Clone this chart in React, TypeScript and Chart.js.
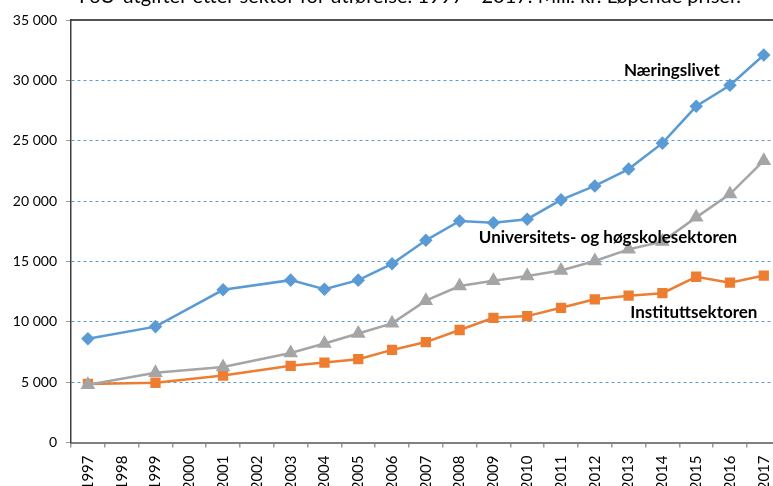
import React, { useEffect, useRef } from "react";
import { Chart, registerables } from "chart.js";

Chart.register(...registerables);

const years = ["1997","1998","1999","2000","2001","2002","2003","2004","2005","2006","2007","2008","2009","2010","2011","2012","2013","2014","2015","2016","2017"];

const naeringslivet = [8600, null, 9600, null, 12650, null, 13450, 12700, 13450, 14800, 16750, 18350, 18200, 18500, 20100, 21250, 22650, 24800, 27850, 29600, 32100];
const universitet = [4780, null, 5770, null, 6250, null, 7420, 8200, 9030, 9870, 11750, 12960, 13400, 13800, 14250, 15040, 16000, 16650, 18650, 20580, 23350];
const institutt = [4850, null, 4950, null, 5550, null, 6350, 6620, 6900, 7670, 8320, 9320, 10330, 10470, 11160, 11860, 12160, 12370, 13730, 13240, 13830];

const seriesNames = ["Næringslivet", "Universitets- og høgskolesektoren", "Instituttsektoren"];
const titleText = "FoU-utgifter etter sektor for utførelse. 1997 - 2017. Mill. kr. Løpende priser.";

const fmt = (v: number) => String(v).replace(/\B(?=(\d{3})+(?!\d))/g, " ");

export default function App() {
  const ref = useRef<HTMLCanvasElement>(null);
  useEffect(() => {
    if (!ref.current) return;
    const labelAnchors = [
      { text: seriesNames[0], x: 17.28, y: 30850 },
      { text: seriesNames[1], x: 15.39, y: 17020 },
      { text: seriesNames[2], x: 17.93, y: 10730 },
    ];
    const overlay = {
      id: "overlay",
      afterDraw(chart: any) {
        const ctx = chart.ctx;
        const a = chart.chartArea;
        const xs = chart.scales.x;
        const ys = chart.scales.y;
        ctx.save();
        ctx.strokeStyle = "#1a1a1a";
        ctx.lineWidth = 1.5;
        ctx.beginPath();
        ctx.moveTo(a.left, a.top);
        ctx.lineTo(a.right, a.top);
        ctx.stroke();
        ctx.fillStyle = "#000";
        ctx.font = "bold 17px Lato";
        ctx.textAlign = "center";
        ctx.textBaseline = "middle";
        labelAnchors.forEach((l) => {
          ctx.fillText(l.text, xs.getPixelForValue(l.x), ys.getPixelForValue(l.y));
        });
        ctx.font = "20px Lato";
        ctx.textBaseline = "alphabetic";
        ctx.fillText(titleText, 410, 3);
        ctx.restore();
      },
    };
    const chart = new Chart(ref.current, {
      type: "line",
      data: {
        labels: years,
        datasets: [
          {
            label: seriesNames[0],
            data: naeringslivet,
            borderColor: "#5B9BD5",
            backgroundColor: "#5B9BD5",
            pointStyle: "rectRot",
            pointRadius: 5,
            borderWidth: 2.5,
            spanGaps: true,
          },
          {
            label: seriesNames[1],
            data: universitet,
            borderColor: "#A5A5A5",
            backgroundColor: "#A5A5A5",
            pointStyle: "triangle",
            pointRadius: 6,
            borderWidth: 2.5,
            spanGaps: true,
          },
          {
            label: seriesNames[2],
            data: institutt,
            borderColor: "#ED7D31",
            backgroundColor: "#ED7D31",
            pointStyle: "rect",
            pointRadius: 5.5,
            borderWidth: 2.5,
            spanGaps: true,
          },
        ],
      },
      options: {
        responsive: false,
        animation: false,
        layout: { padding: { top: 20, right: 9, left: 0, bottom: 0 } },
        plugins: { legend: { display: false }, tooltip: { enabled: false }, title: { display: false } },
        elements: { line: { tension: 0 } },
        scales: {
          x: {
            offset: true,
            grid: { offset: true, drawOnChartArea: false, drawTicks: true, tickLength: 5, color: "#9a9a9a", lineWidth: 1.5 },
            border: { color: "#808080", width: 2 },
            ticks: { color: "#000", font: { family: "Lato", size: 15 }, maxRotation: 90, minRotation: 90, padding: 8, autoSkip: false },
            afterFit(scale: any) { scale.height = 43.5; },
          },
          y: {
            min: 0,
            max: 35000,
            ticks: { stepSize: 5000, color: "#000", font: { family: "Lato", size: 14 }, padding: 9, callback: (v: any) => fmt(Number(v)) },
            grid: {
              color: (c: any) => (c.tick && c.tick.value === 35000 ? "rgba(0,0,0,0)" : "#5B9BD5"),
              tickColor: "#9a9a9a",
              tickBorderDash: [],
              tickLength: 5,
              lineWidth: 1,
            },
            border: { color: "#404040", width: 1.5, dash: [3, 3] },
            afterFit(scale: any) { scale.width = 71; },
          },
        },
      },
      plugins: [overlay],
    });
    return () => chart.destroy();
  }, []);
  return (
    <div style={{ position: "fixed", left: 0, top: 0, width: 773, height: 486, overflow: "hidden", background: "#fff" }}>
      <canvas ref={ref} width={790} height={486} style={{ display: "block" }} />
    </div>
  );
}
